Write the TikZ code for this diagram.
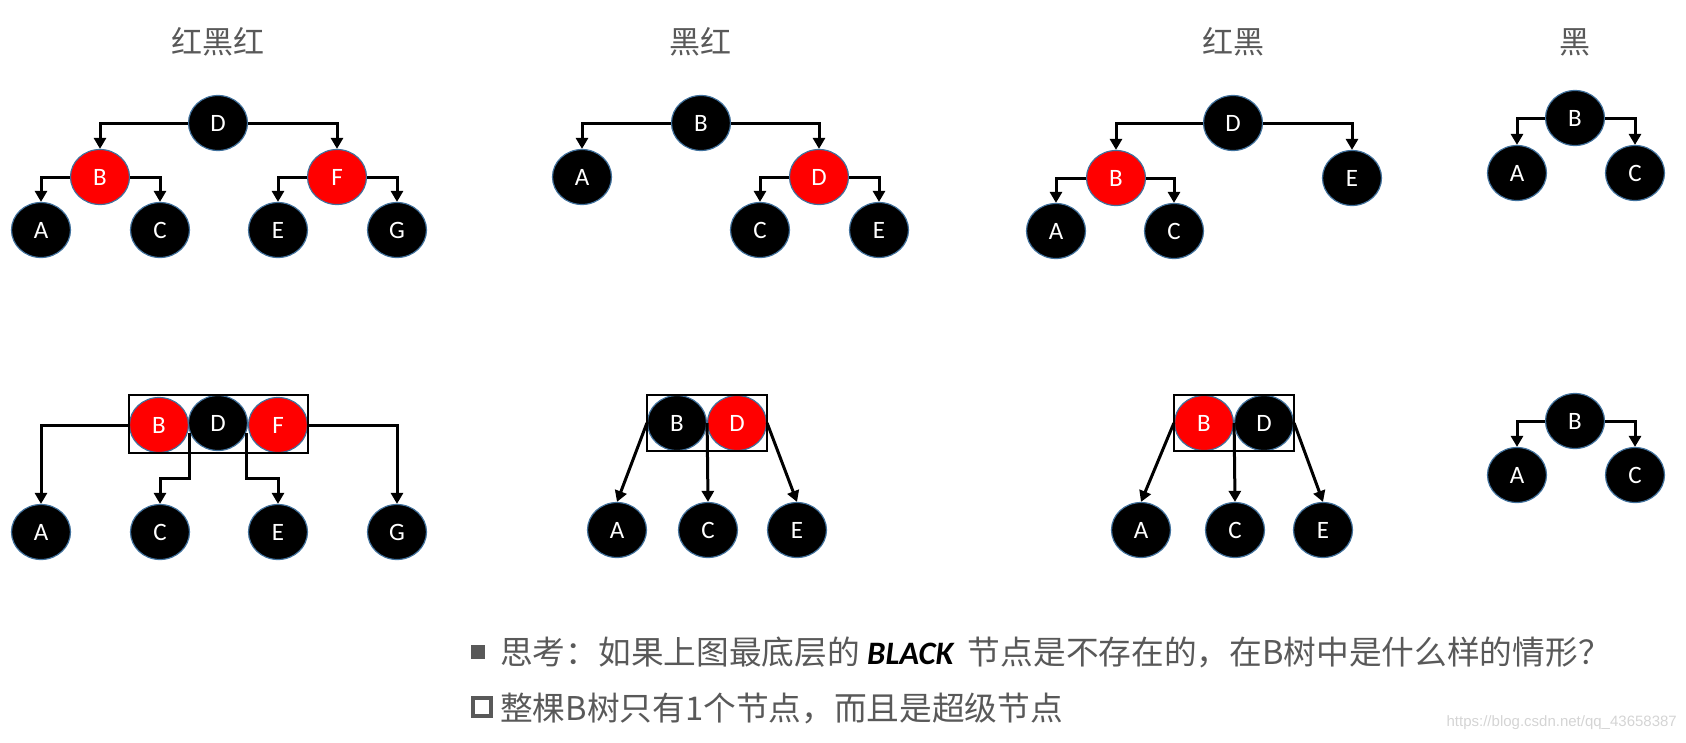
\documentclass[tikz,border=0pt]{standalone}
\usepackage{fontspec}
\setmainfont{Carlito}
\newfontfamily\cjk{Noto Sans CJK SC}
\newfontfamily\wmfont{Liberation Sans}
\usetikzlibrary{arrows.meta,shapes.geometric,fit}
\definecolor{nodeedge}{HTML}{41719C}
\definecolor{textgrey}{HTML}{595959}
\definecolor{markgrey}{HTML}{D4D4D4}

\begin{document}
\begin{tikzpicture}[x=1pt, y=-1pt,
	rbnode/.style={ellipse, minimum width=59pt, minimum height=55pt, inner sep=0pt, draw=nodeedge, line width=1.2pt, text=white, font=\fontsize{25}{25}\selectfont},
	blk/.style={rbnode, fill=black},
	rd/.style={rbnode, fill=red},
	arr/.style={-{Triangle[length=11pt,width=12pt]}, line width=3pt},
	heading/.style={text=textgrey, font=\cjk\fontsize{31}{31}\selectfont},
	superbox/.style={draw, line width=1.5pt, inner sep=0pt},
	remark/.style={anchor=west, inner sep=0pt, text=textgrey, font=\cjk\fontsize{32.7}{33}\selectfont}]
	\useasboundingbox (0,0) rectangle (1686,742);
	% top row
	\node[heading] (t1) at (218,42) {红黑红};
	\node[heading] (t2) at (700,42) {黑红};
	\node[heading] (t3) at (1233,42) {红黑};
	\node[heading] (t4) at (1575,42) {黑};

	\node[blk] (d1) at (218,123) {D};
	\node[rd] (b1) at (100,177) {B};
	\node[rd] (f1) at (337,177) {F};
	\node[blk] (a1) at (41,230) {A};
	\node[blk] (c1) at (160,230) {C};
	\node[blk] (e1) at (278,230) {E};
	\node[blk] (g1) at (397,230) {G};
	\draw[arr] (d1.west) -| (b1.north);
	\draw[arr] (d1.east) -| (f1.north);
	\draw[arr] (b1.west) -| (a1.north);
	\draw[arr] (b1.east) -| (c1.north);
	\draw[arr] (f1.west) -| (e1.north);
	\draw[arr] (f1.east) -| (g1.north);

	\node[blk] (b2) at (701,123) {B};
	\node[blk] (a2) at (582,177) {A};
	\node[rd] (d2) at (819,177) {D};
	\node[blk] (c2) at (760,230) {C};
	\node[blk] (e2) at (879,230) {E};
	\draw[arr] (b2.west) -| (a2.north);
	\draw[arr] (b2.east) -| (d2.north);
	\draw[arr] (d2.west) -| (c2.north);
	\draw[arr] (d2.east) -| (e2.north);

	\node[blk] (d3) at (1233,123) {D};
	\node[rd] (b3) at (1116,178) {B};
	\node[blk] (e3) at (1352,178) {E};
	\node[blk] (a3) at (1056,231) {A};
	\node[blk] (c3) at (1174,231) {C};
	\draw[arr] (d3.west) -| (b3.north);
	\draw[arr] (d3.east) -| (e3.north);
	\draw[arr] (b3.west) -| (a3.north);
	\draw[arr] (b3.east) -| (c3.north);

	\node[blk] (b4) at (1575,118) {B};
	\node[blk] (a4) at (1517,173) {A};
	\node[blk] (c4) at (1635,173) {C};
	\draw[arr] (b4.west) -| (a4.north);
	\draw[arr] (b4.east) -| (c4.north);

	% bottom row
	\node[rd] (b5) at (159,425) {B};
	\node[blk] (d5) at (218,423) {D};
	\node[rd] (f5) at (278,425) {F};
	\node[superbox, fit=(b5)(d5)(f5)] (box5) {};
	\node[blk] (a5) at (41,532) {A};
	\node[blk] (c5) at (160,532) {C};
	\node[blk] (e5) at (278,532) {E};
	\node[blk] (g5) at (397,532) {G};
	\draw[arr] (b5.west) -| (a5.north);
	\draw[arr] (d5.200) -- ++(0,45) -| (c5.north);
	\draw[arr] (d5.340) -- ++(0,45) -| (e5.north);
	\draw[arr] (f5.east) -| (g5.north);

	\node[blk] (b6) at (677,423) {B};
	\node[rd] (d6) at (737,423) {D};
	\node[superbox, fit=(b6)(d6)] (box6) {};
	\node[blk] (a6) at (617,530) {A};
	\node[blk] (c6) at (708,530) {C};
	\node[blk] (e6) at (797,530) {E};
	\draw[arr] (b6.west) -- (a6.north);
	\draw[arr] (b6.east) -- (c6.north);
	\draw[arr] (d6.east) -- (e6.north);

	\node[rd] (b7) at (1204,423) {B};
	\node[blk] (d7) at (1264,423) {D};
	\node[superbox, fit=(b7)(d7)] (box7) {};
	\node[blk] (a7) at (1141,530) {A};
	\node[blk] (c7) at (1235,530) {C};
	\node[blk] (e7) at (1323,530) {E};
	\draw[arr] (b7.west) -- (a7.north);
	\draw[arr] (b7.east) -- (c7.north);
	\draw[arr] (d7.east) -- (e7.north);

	\node[blk] (b8) at (1575,421) {B};
	\node[blk] (a8) at (1517,475) {A};
	\node[blk] (c8) at (1635,475) {C};
	\draw[arr] (b8.west) -| (a8.north);
	\draw[arr] (b8.east) -| (c8.north);

	% remarks
	\node[fill=textgrey, minimum size=14pt, inner sep=0pt] (bul1) at (478,652) {};
	\node[draw=textgrey, line width=3.5pt, minimum size=18pt, inner sep=0pt] (bul2) at (482,707) {};
	\node[remark] (q1) at (500,652) {思考：如果上图最底层的 {\color{black}\normalfont\bfseries\itshape BLACK}\ \ 节点是不存在的，在B树中是什么样的情形？};
	\node[remark] (q2) at (500,708) {整棵B树只有1个节点，而且是超级节点};
	\node[anchor=east, inner sep=0pt, text=markgrey, font=\wmfont\fontsize{15}{15}\selectfont] (mark) at (1677,723) {https://blog.csdn.net/qq\_43658387};
\end{tikzpicture}
\end{document}
